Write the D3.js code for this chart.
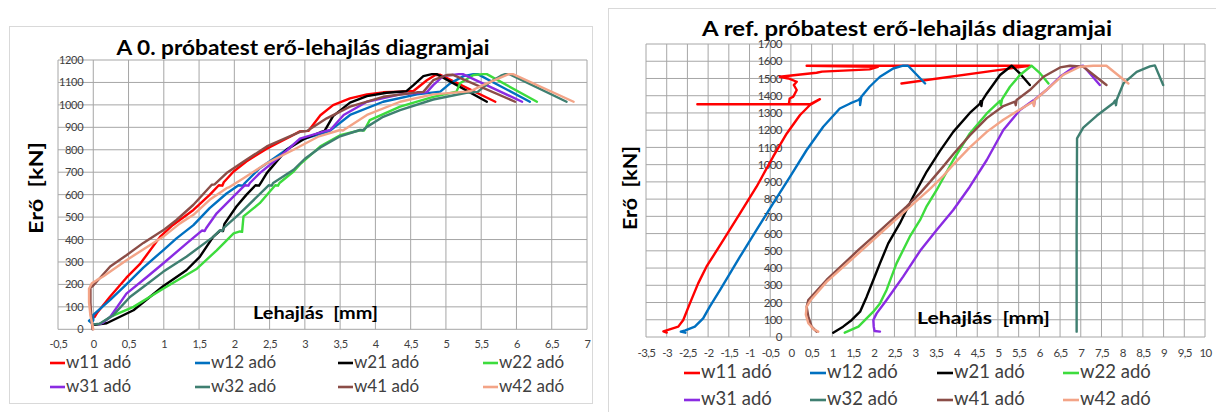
<!DOCTYPE html>
<html>
<head>
<meta charset="utf-8">
<script src="https://cdn.jsdelivr.net/npm/d3@7"></script>
<style>
  body { margin: 0; background: #fff; }
  svg { display: block; font-family: Lato, "Open Sans", "DejaVu Sans", sans-serif; }
  text { white-space: pre; }
</style>
</head>
<body>
<svg id="chart" width="1216" height="412"></svg>
<script>
// Series shared by both test pieces
const seriesNames = ["w11 adó", "w12 adó", "w21 adó", "w22 adó", "w31 adó", "w32 adó", "w41 adó", "w42 adó"];
const seriesColors = ["#ff0000", "#0070c0", "#000000", "#3ddc3d", "#8a2be2", "#3f7f71", "#8b4d47", "#f3a487"];

// Test piece "0": [deflection mm, force kN]
const p0_w11 = [[0.02,55],[0.05,71],[0.24,146],[0.47,230],[0.66,290],[0.95,413],[1.13,465],[1.42,532],[1.65,599],[1.78,642],[1.83,640],[1.85,655],[1.99,703],[2.17,748],[2.46,805],[2.79,858],[2.93,882],[3.05,884],[3.22,954],[3.40,999],[3.64,1029],[3.88,1047],[4.11,1056],[4.35,1059],[4.54,1062],[4.73,1110],[4.85,1133],[4.92,1134],[5.70,1014]];
const p0_w12 = [[-0.03,45],[-0.06,38],[-0.03,30],[0.0,40],[0.0,64],[0.24,131],[0.47,200],[0.71,275],[0.99,352],[1.18,405],[1.42,464],[1.65,540],[1.89,605],[2.06,642],[2.12,640],[2.15,652],[2.36,718],[2.60,770],[2.93,843],[3.35,883],[3.64,955],[4.11,1014],[4.59,1047],[4.92,1059],[5.06,1096],[5.25,1128],[5.39,1137],[5.45,1137],[6.19,1014]];
const p0_w21 = [[0.02,20],[0.19,27],[0.57,85],[0.99,192],[1.32,263],[1.51,323],[1.70,412],[1.80,440],[1.84,438],[1.86,470],[2.03,547],[2.17,599],[2.30,642],[2.35,640],[2.38,655],[2.46,696],[2.74,800],[3.0,850],[3.22,878],[3.28,884],[3.40,950],[3.64,1010],[3.88,1039],[4.16,1054],[4.44,1061],[4.54,1088],[4.68,1128],[4.80,1137],[4.87,1137],[5.58,1014]];
const p0_w22 = [[0.10,25],[0.24,55],[0.57,100],[0.99,181],[1.47,270],[1.75,352],[1.99,427],[2.08,436],[2.11,434],[2.13,503],[2.36,562],[2.58,642],[2.62,640],[2.64,652],[2.84,703],[2.93,735],[3.22,815],[3.5,865],[3.80,888],[3.84,886],[3.92,932],[4.35,992],[4.82,1036],[5.15,1059],[5.20,1096],[5.39,1133],[5.53,1137],[5.58,1137],[6.29,1014]];
const p0_w31 = [[0.08,22],[0.14,30],[0.24,55],[0.47,159],[0.76,233],[0.99,293],[1.32,382],[1.54,440],[1.58,438],[1.60,450],[1.75,517],[1.99,592],[2.15,642],[2.20,640],[2.22,652],[2.36,696],[2.65,770],[2.93,850],[3.30,884],[3.36,888],[3.55,955],[3.88,1014],[4.35,1047],[4.73,1057],[4.82,1088],[4.96,1128],[5.18,1137],[5.24,1137],[6.08,1014]];
const p0_w32 = [[0.0,22],[0.09,25],[0.28,62],[0.52,144],[0.76,201],[0.99,256],[1.32,323],[1.70,412],[1.79,440],[1.83,438],[1.85,452],[2.08,517],[2.49,642],[2.53,640],[2.55,652],[2.84,711],[3.0,760],[3.22,810],[3.5,860],[3.78,888],[3.82,886],[3.88,902],[4.11,947],[4.35,977],[4.82,1024],[5.29,1054],[5.45,1058],[5.6,1096],[5.78,1130],[5.84,1137],[5.90,1137],[6.71,1014]];
const p0_w41 = [[-0.01,0],[-0.03,60],[-0.04,120],[-0.04,185],[0.0,195],[0.24,280],[0.47,330],[0.71,385],[0.99,441],[1.18,487],[1.42,555],[1.68,644],[1.72,646],[1.89,696],[2.17,755],[2.46,815],[2.93,880],[3.03,884],[3.31,940],[3.64,992],[4.11,1036],[4.59,1056],[4.68,1058],[4.82,1110],[5.01,1133],[5.10,1134],[5.98,1014]];
const p0_w42 = [[0.0,0],[-0.04,60],[-0.06,120],[-0.06,180],[-0.02,205],[0.05,219],[0.14,235],[0.47,308],[0.99,412],[1.23,472],[1.42,510],[1.65,577],[1.89,629],[1.92,632],[2.13,673],[2.46,740],[2.84,800],[3.2,860],[3.5,888],[3.54,886],[3.88,955],[4.35,1014],[4.82,1047],[5.29,1059],[5.35,1062],[5.58,1096],[5.89,1137],[5.95,1137],[6.81,1014]];

// Reference test piece: [deflection mm, force kN]
const pr_w11 = [[-3.0,26],[-3.08,33],[-2.72,60],[-2.6,99],[-2.44,195],[-2.24,311],[-2.04,408],[-1.63,563],[-1.23,717],[-0.83,872],[-0.43,1046],[-0.10,1181],[0.22,1288],[0.46,1346],[0.70,1380],[0.46,1350],[-2.26,1350],[-0.05,1350],[-0.03,1384],[0.06,1395],[0.14,1433],[0.07,1462],[0.14,1481],[-0.06,1500],[-0.27,1510],[0.62,1533],[0.75,1540],[1.9,1553],[2.1,1568],[0.38,1574],[5.77,1574],[2.67,1471]];
const pr_w12 = [[-2.55,25],[-2.66,31],[-2.55,38],[-2.32,60],[-2.12,108],[-1.96,176],[-1.71,273],[-1.23,466],[-0.83,621],[-0.43,775],[-0.02,930],[0.38,1085],[0.78,1220],[1.18,1326],[1.43,1355],[1.63,1375],[1.67,1385],[1.67,1346],[1.70,1394],[1.9,1452],[2.15,1510],[2.47,1558],[2.71,1574],[2.83,1574],[3.24,1471]];
const pr_w21 = [[1.02,25],[1.26,60],[1.47,99],[1.67,147],[1.83,234],[1.99,331],[2.15,427],[2.35,543],[2.63,659],[2.95,814],[3.28,960],[3.6,1080],[3.92,1190],[4.32,1300],[4.56,1352],[4.58,1368],[4.60,1340],[4.62,1372],[4.73,1413],[5.05,1520],[5.33,1574],[5.53,1529],[5.77,1462]];
const pr_w22 = [[1.30,25],[1.63,60],[1.99,147],[2.15,195],[2.31,273],[2.55,427],[2.87,582],[3.12,679],[3.28,760],[3.52,853],[3.92,1027],[4.32,1181],[4.73,1297],[5.05,1370],[5.07,1345],[5.10,1380],[5.29,1452],[5.53,1520],[5.81,1574],[6.02,1529],[6.22,1471]];
const pr_w31 = [[2.15,31],[2.02,35],[2.0,60],[1.99,99],[2.07,137],[2.31,215],[2.71,350],[3.12,500],[3.52,621],[3.92,737],[4.32,872],[4.73,1027],[5.13,1201],[5.53,1317],[5.85,1372],[5.87,1345],[5.89,1378],[6.17,1433],[6.5,1510],[6.82,1564],[7.06,1574],[7.46,1462]];
const pr_w32 = [[6.90,31],[6.90,600],[6.91,1152],[7.06,1215],[7.39,1285],[7.79,1358],[7.83,1372],[7.85,1345],[7.87,1378],[8.03,1471],[8.35,1538],[8.67,1570],[8.79,1576],[8.99,1462]];
const pr_w41 = [[0.62,31],[0.50,60],[0.42,118],[0.38,176],[0.42,215],[0.86,331],[1.63,505],[1.99,582],[2.79,756],[3.12,835],[3.36,900],[3.68,990],[3.92,1060],[4.32,1170],[4.73,1270],[5.13,1340],[5.41,1365],[5.43,1345],[5.45,1375],[5.77,1433],[6.10,1510],[6.5,1564],[6.74,1574],[7.06,1568],[7.62,1462]];
const pr_w42 = [[0.66,31],[0.55,45],[0.42,80],[0.36,130],[0.38,176],[0.48,215],[0.86,320],[1.99,563],[2.79,737],[3.36,860],[3.68,935],[3.92,1000],[4.32,1100],[4.73,1190],[5.13,1260],[5.53,1320],[5.85,1365],[5.87,1340],[5.89,1375],[6.17,1433],[6.57,1520],[6.98,1568],[7.3,1574],[7.62,1574],[8.15,1471]];

// Axis ticks
const p0_xTicks = [-0.5, 0, 0.5, 1, 1.5, 2, 2.5, 3, 3.5, 4, 4.5, 5, 5.5, 6, 6.5, 7];
const p0_yTicks = [0, 100, 200, 300, 400, 500, 600, 700, 800, 900, 1000, 1100, 1200];
const pr_xTicks = [-3.5, -3, -2.5, -2, -1.5, -1, -0.5, 0, 0.5, 1, 1.5, 2, 2.5, 3, 3.5, 4, 4.5, 5, 5.5, 6, 6.5, 7, 7.5, 8, 8.5, 9, 9.5, 10];
const pr_yTicks = [0, 100, 200, 300, 400, 500, 600, 700, 800, 900, 1000, 1100, 1200, 1300, 1400, 1500, 1600, 1700];

const svg = d3.select("#chart");
const fmt = d => String(d).replace(".", ",");

const panels = [
  {
    title: "A 0. próbatest erő-lehajlás diagramjai",
    titleX: 303, titleY: 55, titleSize: 20, titleLen: 373,
    frame: [9.5, 26.5, 583, 377],
    xDomain: [-0.5, 7], xRange: [58, 587],
    yDomain: [0, 1200], yRange: [329.3, 60],
    xTicks: p0_xTicks, yTicks: p0_yTicks,
    tickSize: 11, tickSpacing: -0.3, yLabelPad: 10, xLabelY: 345,
    series: [p0_w11, p0_w12, p0_w21, p0_w22, p0_w31, p0_w32, p0_w41, p0_w42],
    yTitle: { x: 43, y: 188, size: 18, len: 92 },
    xTitle: { x: 253, y: 319, size: 16.5, len: 125 },
    legend: { cols: [50, 195, 338, 483], rows: [363, 387], lineLen: 15, size: 17, dy: 5 }
  },
  {
    title: "A ref. próbatest erő-lehajlás diagramjai",
    titleX: 907, titleY: 36, titleSize: 20, titleLen: 410,
    frame: [608.5, 8.5, 640, 440],
    xDomain: [-3.5, 10], xRange: [646, 1205],
    yDomain: [0, 1700], yRange: [337, 44],
    xTicks: pr_xTicks, yTicks: pr_yTicks,
    tickSize: 11.5, tickSpacing: -0.6, yLabelPad: 9, xLabelY: 354,
    series: [pr_w11, pr_w12, pr_w21, pr_w22, pr_w31, pr_w32, pr_w41, pr_w42],
    yTitle: { x: 637, y: 188, size: 18, len: 84 },
    xTitle: { x: 917, y: 324, size: 17.5, len: 133 },
    legend: { cols: [684, 810, 937, 1063], rows: [373, 400], lineLen: 16, size: 18.5, dy: 5 }
  }
];

panels.forEach(p => {
  const g = svg.append("g");
  const x = d3.scaleLinear().domain(p.xDomain).range(p.xRange);
  const y = d3.scaleLinear().domain(p.yDomain).range(p.yRange);
  const plotTop = y(p.yDomain[1]), plotBottom = y(p.yDomain[0]);
  const plotLeft = x(p.xDomain[0]), plotRight = x(p.xDomain[1]);

  // chart frame
  g.append("rect")
    .attr("x", p.frame[0]).attr("y", p.frame[1])
    .attr("width", p.frame[2]).attr("height", p.frame[3])
    .attr("fill", "none").attr("stroke", "#d9d9d9").attr("stroke-width", 1);

  // gridlines
  const grid = g.append("g").attr("stroke", "#a6a6a6").attr("stroke-width", 1);
  grid.selectAll("line.gx").data(p.xTicks).join("line").attr("class", "gx")
    .attr("x1", d => x(d)).attr("x2", d => x(d))
    .attr("y1", plotTop).attr("y2", plotBottom);
  grid.selectAll("line.gy").data(p.yTicks).join("line").attr("class", "gy")
    .attr("x1", plotLeft).attr("x2", plotRight)
    .attr("y1", d => y(d)).attr("y2", d => y(d));

  // y tick labels, sitting next to the vertical axis at x = 0
  const yAxis = g.append("g")
    .attr("transform", `translate(${x(0)},0)`)
    .call(d3.axisLeft(y).tickValues(p.yTicks).tickSize(0).tickPadding(p.yLabelPad).tickFormat(fmt));
  yAxis.select(".domain").remove();
  yAxis.selectAll("text").attr("font-size", p.tickSize).attr("fill", "#404040")
    .attr("letter-spacing", p.tickSpacing)
    .attr("font-family", "Lato, 'Open Sans', sans-serif");

  // x tick labels
  const xAxis = g.append("g")
    .attr("transform", `translate(0,${p.xLabelY})`)
    .call(d3.axisBottom(x).tickValues(p.xTicks).tickSize(0).tickPadding(0).tickFormat(fmt));
  xAxis.select(".domain").remove();
  xAxis.selectAll("text").attr("font-size", p.tickSize).attr("fill", "#404040")
    .attr("letter-spacing", p.tickSpacing)
    .attr("dy", "0").attr("dominant-baseline", "middle")
    .attr("font-family", "Lato, 'Open Sans', sans-serif");

  // series lines
  const line = d3.line().x(d => x(d[0])).y(d => y(d[1]));
  p.series.forEach((s, i) => {
    g.append("path")
      .attr("d", line(s))
      .attr("fill", "none")
      .attr("stroke", seriesColors[i])
      .attr("stroke-width", 2.4)
      .attr("stroke-linejoin", "round")
      .attr("stroke-linecap", "round");
  });

  // titles
  g.append("text")
    .attr("x", p.titleX).attr("y", p.titleY)
    .attr("text-anchor", "middle")
    .attr("font-size", p.titleSize).attr("font-weight", "bold").attr("fill", "#000")
    .attr("textLength", p.titleLen).attr("lengthAdjust", "spacingAndGlyphs")
    .text(p.title);

  g.append("text")
    .attr("transform", `translate(${p.yTitle.x},${p.yTitle.y}) rotate(-90)`)
    .attr("text-anchor", "middle")
    .attr("font-size", p.yTitle.size).attr("font-weight", "bold").attr("fill", "#000")
    .attr("textLength", p.yTitle.len).attr("lengthAdjust", "spacingAndGlyphs")
    .text("Erő  [kN]");

  g.append("text")
    .attr("x", p.xTitle.x).attr("y", p.xTitle.y)
    .attr("font-size", p.xTitle.size).attr("font-weight", "bold").attr("fill", "#000")
    .attr("textLength", p.xTitle.len).attr("lengthAdjust", "spacingAndGlyphs")
    .text("Lehajlás  [mm]");

  // legend: two rows of four
  const lg = p.legend;
  seriesNames.forEach((name, i) => {
    const cx = lg.cols[i % 4], cy = lg.rows[Math.floor(i / 4)];
    g.append("line")
      .attr("x1", cx).attr("x2", cx + lg.lineLen)
      .attr("y1", cy).attr("y2", cy)
      .attr("stroke", seriesColors[i]).attr("stroke-width", 2.6);
    g.append("text")
      .attr("x", cx + lg.lineLen + 1).attr("y", cy + lg.dy)
      .attr("font-size", lg.size).attr("fill", "#404040")
      .text(name);
  });
});
</script>
</body>
</html>
